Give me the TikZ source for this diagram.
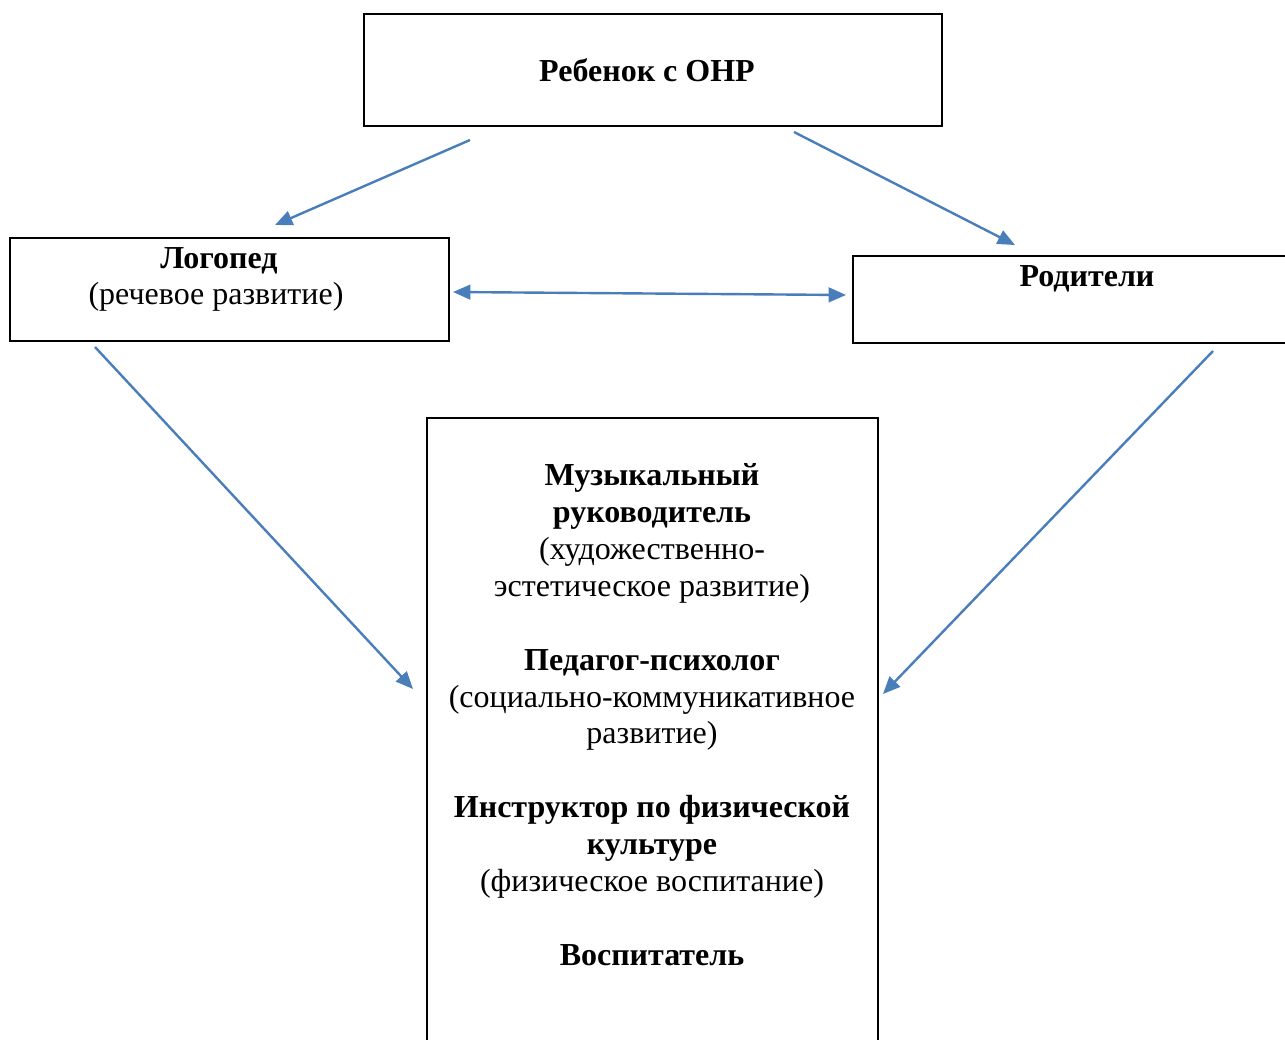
\documentclass[tikz,border=0pt]{standalone}
\usepackage{fontspec}
\setmainfont{Liberation Serif}
\usetikzlibrary{arrows.meta}
\definecolor{arrowblue}{HTML}{4A7EBB}
\begin{document}
\begin{tikzpicture}[x=0.75pt,y=-0.75pt,
  box/.style={draw=black,line width=1.4pt,rectangle,inner sep=0pt},
  txt/.style={font=\fontsize{24}{27.65}\selectfont,align=center,inner sep=0pt},
  conn/.style={draw=arrowblue,line width=1.8pt,-{Triangle[length=13pt,width=11pt]}},
  dconn/.style={draw=arrowblue,line width=1.8pt,{Triangle[length=13pt,width=11pt]}-{Triangle[length=13pt,width=11pt]}}
]
\useasboundingbox (0,0) rectangle (1285,1039);

% boxes
\node[box,minimum width=433.5pt,minimum height=84pt] (child) at (653,70) {};
\node[box,minimum width=329.25pt,minimum height=77.25pt] (logo) at (229.5,289.5) {};
\node[box,minimum width=351pt,minimum height=65.25pt] (par) at (1087,299.5) {};
\node[box,minimum width=338.25pt,minimum height=481.5pt] (team) at (652.5,739) {};

% texts
\node[txt,anchor=base] (childtxt) at (647,81) {\textbf{Ребенок с ОНР}};
\node[txt,anchor=base] (logotxt1) at (219,268) {\textbf{Логопед}};
\node[txt,anchor=base] (logotxt2) at (216,304) {(речевое развитие)};
\node[txt,anchor=base] (partxt) at (1087,286) {\textbf{Родители}};
\node[txt,anchor=north] (teamtxt) at (652,463.5) {\textbf{Музыкальный}\\\textbf{руководитель}\\(художественно-\\эстетическое развитие)\\[27.65pt]\textbf{Педагог-психолог}\\(социально-коммуникативное\\развитие)\\[27.65pt]\textbf{Инструктор по физической}\\\textbf{культуре}\\(физическое воспитание)\\[27.65pt]\textbf{Воспитатель}};

% connector end points
\coordinate (a1s) at (470,140);
\coordinate (a1e) at (275,225);
\coordinate (a2s) at (794,132);
\coordinate (a2e) at (1015,245);
\coordinate (a3s) at (453,292);
\coordinate (a3e) at (846,295);
\coordinate (a4s) at (95,347);
\coordinate (a4e) at (413,689);
\coordinate (a5s) at (1213,351);
\coordinate (a5e) at (883,694);

\draw[conn] (a1s) -- (a1e);
\draw[conn] (a2s) -- (a2e);
\draw[dconn] (a3s) -- (a3e);
\draw[conn] (a4s) -- (a4e);
\draw[conn] (a5s) -- (a5e);
\end{tikzpicture}
\end{document}
